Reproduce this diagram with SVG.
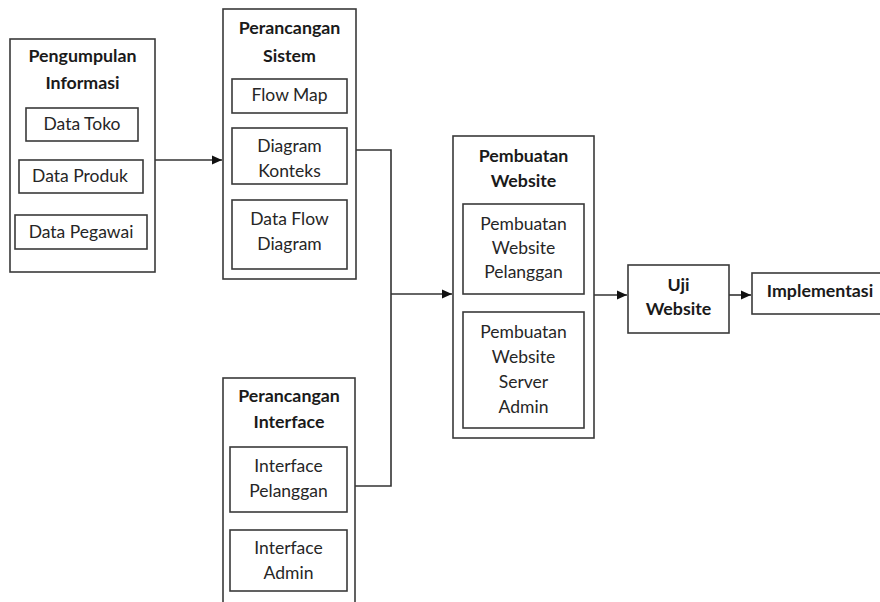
<svg xmlns="http://www.w3.org/2000/svg" width="880" height="602" viewBox="0 0 880 602">
<style>
.box{fill:#fff;stroke:#3a3a3a;stroke-width:1.6}
.t{font-family:Lato,"Open Sans","Liberation Sans",sans-serif;font-size:17.5px;fill:#262626;text-anchor:middle}
.b{font-weight:bold;fill:#1a1a1a;font-size:17.8px}
.c{fill:none;stroke:#333;stroke-width:1.6}
</style>
<defs>
<marker id="ah" markerWidth="12" markerHeight="12" refX="10" refY="5" orient="auto" markerUnits="userSpaceOnUse">
<path d="M0,0.5 L10,5 L0,9.5 Z" fill="#111"/>
</marker>
</defs>
<rect width="880" height="602" fill="#fff"/>
<g id="connectors">
<path class="c" d="M155,160 H222" marker-end="url(#ah)"/>
<path class="c" d="M347,150 H391 V486 H355"/>
<path class="c" d="M391,294 H452" marker-end="url(#ah)"/>
<path class="c" d="M594,295 H627" marker-end="url(#ah)"/>
<path class="c" d="M729,295 H751" marker-end="url(#ah)"/>
</g>
<g id="pengumpulan">
<rect class="box" x="10" y="39" width="145" height="233"/>
<text class="t b" x="82.5" y="62">Pengumpulan</text>
<text class="t b" x="82.5" y="89">Informasi</text>
<g id="data-toko"><rect class="box" x="26" y="108" width="112" height="33"/><text class="t" x="82" y="130">Data Toko</text></g>
<g id="data-produk"><rect class="box" x="19" y="160" width="124" height="33"/><text class="t" x="80" y="182">Data Produk</text></g>
<g id="data-pegawai"><rect class="box" x="15" y="215" width="132" height="34"/><text class="t" x="81" y="238">Data Pegawai</text></g>
</g>
<g id="perancangan-sistem">
<rect class="box" x="223" y="9" width="133" height="270"/>
<text class="t b" x="289.5" y="34">Perancangan</text>
<text class="t b" x="289.5" y="62">Sistem</text>
<g id="flow-map"><rect class="box" x="232" y="79" width="115" height="34"/><text class="t" x="289.5" y="101">Flow Map</text></g>
<g id="diagram-konteks"><rect class="box" x="232" y="128" width="115" height="56"/><text class="t" x="289.5" y="152">Diagram</text><text class="t" x="289.5" y="177">Konteks</text></g>
<g id="dfd"><rect class="box" x="232" y="200" width="115" height="69"/><text class="t" x="289.5" y="225">Data Flow</text><text class="t" x="289.5" y="250">Diagram</text></g>
</g>
<g id="perancangan-interface">
<rect class="box" x="223" y="378" width="132" height="232"/>
<text class="t b" x="289" y="402">Perancangan</text>
<text class="t b" x="289" y="428">Interface</text>
<g id="interface-pelanggan"><rect class="box" x="230" y="447" width="117" height="65"/><text class="t" x="288.5" y="472">Interface</text><text class="t" x="288.5" y="497">Pelanggan</text></g>
<g id="interface-admin"><rect class="box" x="230" y="530" width="117" height="61"/><text class="t" x="288.5" y="554">Interface</text><text class="t" x="288.5" y="579">Admin</text></g>
</g>
<g id="pembuatan-website">
<rect class="box" x="453" y="136" width="141" height="302"/>
<text class="t b" x="523.5" y="162">Pembuatan</text>
<text class="t b" x="523.5" y="187">Website</text>
<g id="website-pelanggan"><rect class="box" x="463" y="204" width="121" height="90"/><text class="t" x="523.5" y="230">Pembuatan</text><text class="t" x="523.5" y="254">Website</text><text class="t" x="523.5" y="278">Pelanggan</text></g>
<g id="website-admin"><rect class="box" x="463" y="312" width="121" height="116"/><text class="t" x="523.5" y="338">Pembuatan</text><text class="t" x="523.5" y="363">Website</text><text class="t" x="523.5" y="388">Server</text><text class="t" x="523.5" y="413">Admin</text></g>
</g>
<g id="uji-website">
<rect class="box" x="628" y="265" width="101" height="68"/>
<text class="t b" x="678.5" y="291">Uji</text>
<text class="t b" x="678.5" y="315">Website</text>
</g>
<g id="implementasi">
<rect class="box" x="752" y="273" width="130" height="41"/>
<text class="t b" x="820" y="297">Implementasi</text>
</g>
</svg>
